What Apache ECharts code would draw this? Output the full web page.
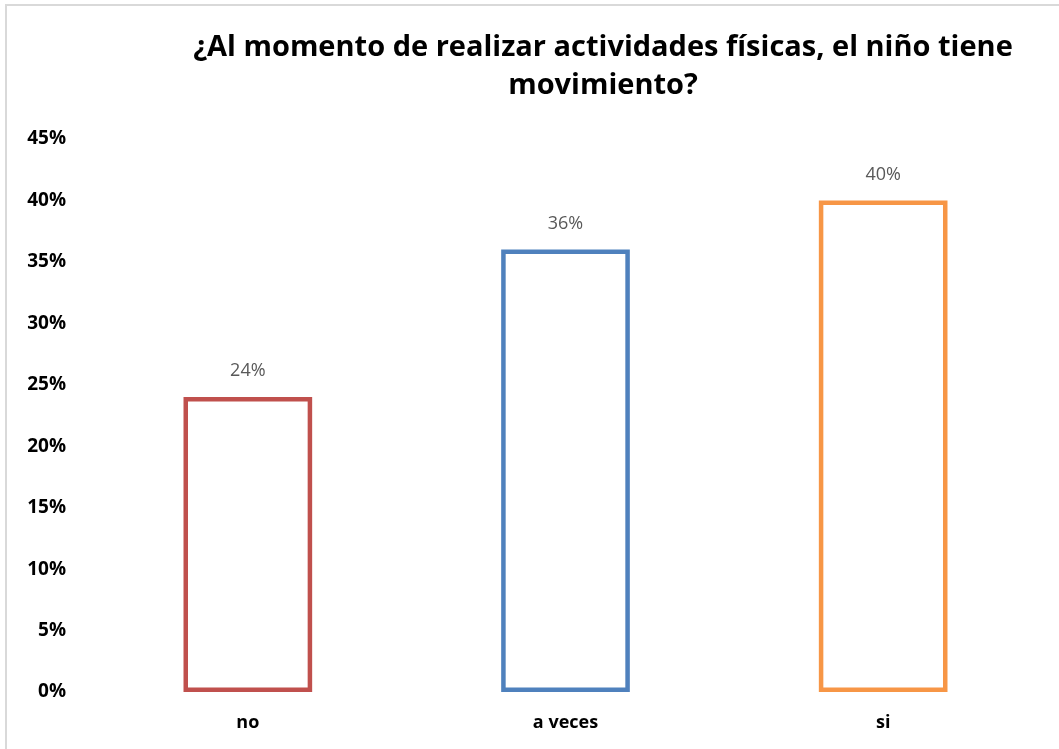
<!DOCTYPE html>
<html><head><meta charset="utf-8">
<script src="https://cdn.jsdelivr.net/npm/echarts@6/dist/echarts.min.js"></script>
<style>html,body{margin:0;padding:0;background:#fff}#c{width:1059px;height:749px}</style>
</head><body><div id="c"></div>
<script>
const categories = ['no', 'a veces', 'si'];
const values = [24, 36, 40];
const colors = ['#C0504D', '#4F81BD', '#F79646'];
const yTicks = [0, 5, 10, 15, 20, 25, 30, 35, 40, 45];

const chart = echarts.init(document.getElementById('c'));
chart.setOption({
  animation: false,
  graphic: [{
    type: 'rect', shape: {x: 6, y: 5, width: 1100, height: 800},
    style: {fill: 'none', stroke: '#d9d9d9', lineWidth: 2}, silent: true
  }],
  title: {
    text: '¿Al momento de realizar actividades físicas, el niño tiene\nmovimiento?',
    left: 598, top: 24, textAlign: 'center',
    textStyle: {fontFamily: 'Open Sans', fontWeight: 'bold', fontSize: 29, lineHeight: 38, color: '#000'}
  },
  grid: {left: 89, right: 17, top: 139, bottom: 57, containLabel: false},
  xAxis: {
    type: 'category', data: categories,
    axisLine: {show: false}, axisTick: {show: false},
    axisLabel: {fontFamily: 'Open Sans', fontWeight: 'bold', fontSize: 18, color: '#000', margin: 22}
  },
  yAxis: {
    type: 'value', min: 0, max: 45, interval: 5,
    axisLine: {show: false}, axisTick: {show: false}, splitLine: {show: false},
    axisLabel: {formatter: v => yTicks.includes(v) ? v + '%' : '', fontFamily: 'Open Sans', fontWeight: 'bold', fontSize: 19, color: '#000', margin: 23}
  },
  series: [{
    type: 'bar', barWidth: '40.5%',
    data: values.map((v, i) => ({value: v, itemStyle: {color: '#fff', borderColor: colors[i], borderWidth: 4.5}})),
    label: {show: true, position: 'top', distance: 17, formatter: p => p.value + '%', fontFamily: 'Open Sans', fontSize: 18, color: '#595959'}
  }]
});
</script></body></html>
